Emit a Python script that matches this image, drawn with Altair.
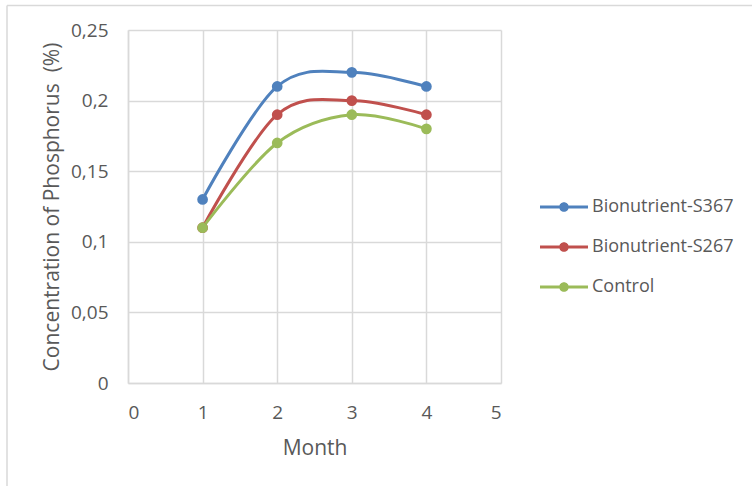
import altair as alt
import pandas as pd

months = [1, 2, 3, 4]
series_names = ["Bionutrient-S367", "Bionutrient-S267", "Control"]
s367 = [0.13, 0.21, 0.22, 0.21]
s267 = [0.11, 0.19, 0.20, 0.19]
control = [0.11, 0.17, 0.19, 0.18]
colors = ["#4F81BD", "#C0504D", "#9BBB59"]

rows = []
for name, vals in zip(series_names, [s367, s267, control]):
    for m, v in zip(months, vals):
        rows.append({"Month": m, "Value": v, "Series": name})
df = pd.DataFrame(rows)

FONT = "Open Sans"
GREY_TEXT = "#595959"
GRID = "#d9d9d9"

# Legend symbol: a short line segment with a dot in the middle
# (both sub-paths wound clockwise so the overlap stays filled)
legend_symbol = (
    "M-1,-0.06H1V0.06H-1Z "
    "M-0.2,0A0.2,0.2 0 1,1 0.2,0A0.2,0.2 0 1,1 -0.2,0Z"
)
legend = alt.Legend(
    title=None,
    orient="none",
    legendX=412,
    legendY=153,
    symbolType=legend_symbol,
    symbolSize=2304,
    symbolStrokeWidth=0,
    symbolOpacity=1,
    labelFontSize=18,
    labelColor=GREY_TEXT,
    labelFont=FONT,
    labelOffset=4,
    rowPadding=7,
)

x_enc = alt.X(
    "Month:Q",
    scale=alt.Scale(domain=[0, 5], nice=False),
    axis=alt.Axis(
        values=[0, 1, 2, 3, 4, 5],
        format="d",
        title="Month",
        titlePadding=15,
    ),
)
y_enc = alt.Y(
    "Value:Q",
    scale=alt.Scale(domain=[0, 0.25], nice=False),
    axis=alt.Axis(
        values=[0, 0.05, 0.1, 0.15, 0.2, 0.25],
        labelExpr="replace(format(datum.value, '.2~f'), '.', ',')",
        title="Concentration of Phosphorus \u00a0(%)",
        titlePadding=8,
    ),
)

lines = alt.Chart(df).mark_line(interpolate="cardinal", strokeWidth=3).encode(
    x=x_enc,
    y=y_enc,
    stroke=alt.Stroke(
        "Series:N",
        scale=alt.Scale(domain=series_names, range=colors),
        sort=series_names,
        legend=legend,
    ),
    detail="Series:N",
)

points = alt.Chart(df).mark_circle(size=115, opacity=1).encode(
    x="Month:Q",
    y="Value:Q",
    fill=alt.Fill(
        "Series:N",
        scale=alt.Scale(domain=series_names, range=colors),
        sort=series_names,
        legend=legend,
    ),
)

frame_data = alt.Data(values=[{"k": 0}])
frame_top = alt.Chart(frame_data).mark_rule(color=GRID, strokeWidth=1.5).encode(
    x=alt.value(-121), x2=alt.value(624), y=alt.value(-24.5)
)
frame_left = alt.Chart(frame_data).mark_rule(color=GRID, strokeWidth=1.5).encode(
    x=alt.value(-121), y=alt.value(-24.5), y2=alt.value(456)
)

chart = (
    alt.layer(frame_top, frame_left, lines, points)
    .properties(
        width=373,
        height=353,
        autosize=alt.AutoSizeParams(type="none"),
        padding={"left": 128, "top": 30, "right": 251, "bottom": 103},
        background="white",
    )
    .configure_view(stroke=None)
    .configure_axis(
        labelFont=FONT,
        titleFont=FONT,
        labelFontSize=19,
        titleFontSize=21,
        labelColor=GREY_TEXT,
        titleColor=GREY_TEXT,
        titleFontWeight="normal",
        gridColor=GRID,
        gridWidth=1.5,
        domainColor=GRID,
        domainWidth=1.5,
        ticks=False,
        labelPadding=20,
    )
)

chart.save("out.html", embed_options={"renderer": "svg", "actions": False})
